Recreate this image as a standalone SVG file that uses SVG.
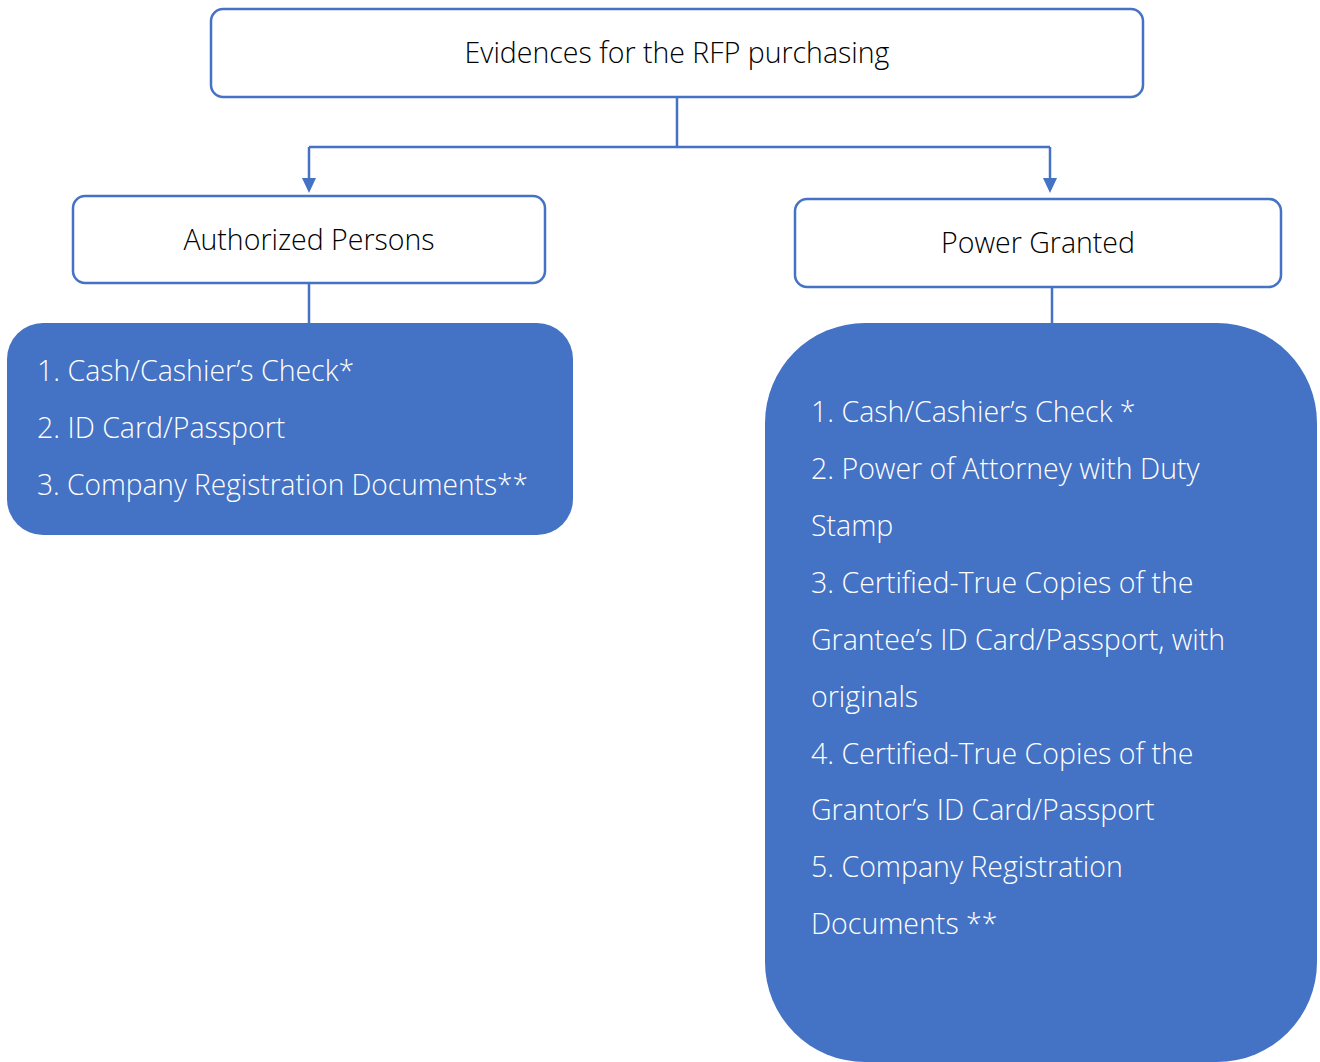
<svg xmlns="http://www.w3.org/2000/svg" width="1320" height="1062" viewBox="0 0 1320 1062">
<defs>
<style>
.box{fill:#fff;stroke:#4472C4;stroke-width:2.5}
.blue{fill:#4472C4}
.t{font-family:"Open Sans","Liberation Sans",sans-serif;font-weight:300;font-size:28.5px;fill:#000}
.w{font-family:"Open Sans","Liberation Sans",sans-serif;font-weight:300;font-size:28.5px;fill:#fff}
.c{fill:none;stroke:#4472C4;stroke-width:2.5}
.a{fill:#4472C4}
</style>
</defs>
<rect width="1320" height="1062" fill="#fff"/>
<g id="connectors">
<path class="c" d="M677,97 V147 M309,147 H1050"/>
<path class="c" d="M309,147 V182"/>
<path class="c" d="M1050,147 V182"/>
<path class="a" d="M302,178 H316 L309,193 Z"/>
<path class="a" d="M1043,178 H1057 L1050,193 Z"/>
<path class="c" d="M309,283 V323"/>
<path class="c" d="M1052,287 V323"/>
</g>
<g id="root">
<rect class="box" x="211" y="9" width="932" height="88" rx="12"/>
<text class="t" x="677" y="63" text-anchor="middle">Evidences for the RFP purchasing</text>
</g>
<g id="authorized">
<rect class="box" x="73" y="196" width="472" height="87" rx="12"/>
<text class="t" x="309" y="250" text-anchor="middle">Authorized Persons</text>
</g>
<g id="power">
<rect class="box" x="795" y="199" width="486" height="88" rx="12"/>
<text class="t" x="1038" y="253" text-anchor="middle">Power Granted</text>
</g>
<g id="authorized-list">
<rect class="blue" x="7" y="323" width="566" height="212" rx="36"/>
<text class="w" x="37" y="381">1. Cash/Cashier’s Check*</text>
<text class="w" x="37" y="438">2. ID Card/Passport</text>
<text class="w" x="37" y="495" textLength="491" lengthAdjust="spacingAndGlyphs">3. Company Registration Documents**</text>
</g>
<g id="power-list">
<rect class="blue" x="765" y="323" width="552" height="739" rx="100"/>
<text class="w" x="811" y="422">1. Cash/Cashier’s Check *</text>
<text class="w" x="811" y="479">2. Power of Attorney with Duty</text>
<text class="w" x="811" y="536">Stamp</text>
<text class="w" x="811" y="593">3. Certified-True Copies of the</text>
<text class="w" x="811" y="650">Grantee’s ID Card/Passport, with</text>
<text class="w" x="811" y="707">originals</text>
<text class="w" x="811" y="764">4. Certified-True Copies of the</text>
<text class="w" x="811" y="820">Grantor’s ID Card/Passport</text>
<text class="w" x="811" y="877">5. Company Registration</text>
<text class="w" x="811" y="934">Documents **</text>
</g>
</svg>
